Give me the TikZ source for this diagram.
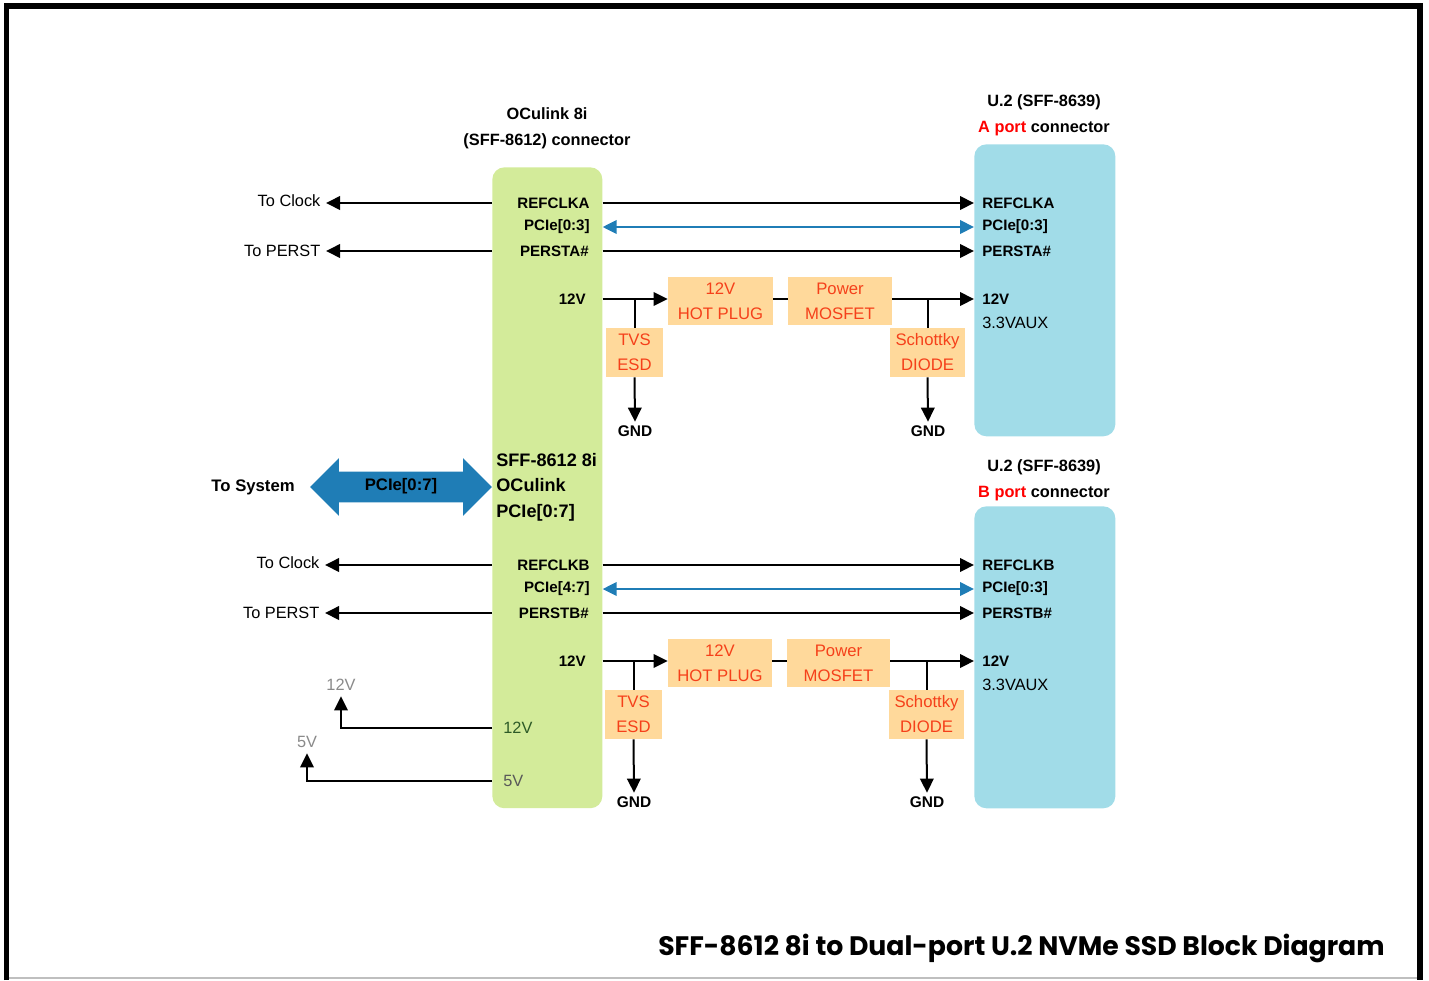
\documentclass[tikz,border=0pt]{standalone}
\usepackage{fontspec}
\setmainfont{Liberation Sans}
\newfontfamily\titlefont{Poppins}
\usetikzlibrary{arrows.meta}
\usetikzlibrary{positioning}
\usetikzlibrary{shapes.arrows}
\definecolor{ocugreen}{HTML}{D3EB9A}
\definecolor{utwoblue}{HTML}{A1DCE8}
\definecolor{partfill}{HTML}{FFD99B}
\definecolor{parttext}{HTML}{F5401A}
\definecolor{laneblue}{HTML}{1F7DB6}
\definecolor{railgrey}{HTML}{8A8A8A}
\definecolor{railgreen}{HTML}{2D5A27}
\newcommand{\fsz}[2][1.2]{\fontsize{#2}{#1\dimexpr#2\relax}\selectfont}

\begin{document}
\begin{tikzpicture}[x=0.02cm, y=-0.02cm,
    sig/.style={font=\bfseries\fsz{8.6pt}, inner sep=0pt},
    plain/.style={font=\fsz{9.3pt}, inner sep=0pt},
    head/.style={font={\bfseries\fsz[1.58]{9.3pt}}, inner sep=0pt, align=center},
    part/.style={fill=partfill, text=parttext, font={\fsz[1.5]{9.5pt}}, align=center, inner sep=0pt},
    gnd/.style={font=\bfseries\fsz{8.8pt}, inner sep=2pt},
    wire/.style={line width=0.04cm, -{Triangle[length=0.28cm,width=0.27cm]}},
    link/.style={line width=0.04cm},
    lane/.style={line width=0.04cm, laneblue, {Triangle[length=0.28cm,width=0.27cm]}-{Triangle[length=0.28cm,width=0.27cm]}}]

  \useasboundingbox (0,0) rectangle (1429,980);
  \draw[line width=0.11cm] (6.5,980) -- (6.5,6) -- (1420,6) -- (1420,980);
  \draw[black!25, line width=0.04cm] (9,978) -- (1417,978);

  \node[fill=ocugreen, rounded corners=0.24cm, inner sep=0pt, minimum width=2.2cm, minimum height=12.82cm, anchor=north west] (ocu) at (492,167) {};
  \node[fill=utwoblue, rounded corners=0.24cm, inner sep=0pt, minimum width=2.82cm, minimum height=5.84cm, anchor=north west] (ua) at (974,144) {};
  \node[fill=utwoblue, rounded corners=0.24cm, inner sep=0pt, minimum width=2.82cm, minimum height=6.04cm, anchor=north west] (ub) at (974,506) {};

  \node[head] (ocuhead) at (547,128) {OCulink 8i\\(SFF-8612) connector};
  \node[head] (uahead) at (1044,115) {U.2 (SFF-8639)\\{\color{red}A port} connector};
  \node[head] (ubhead) at (1044,480) {U.2 (SFF-8639)\\{\color{red}B port} connector};

  \node[sig, anchor=east] (refa) at (590,203) {REFCLKA};
  \node[sig, anchor=east] (pcia) at (590,227) {PCIe[0:3]};
  \node[sig, anchor=east] (persta) at (589,251) {PERSTA\#};
  \node[sig, anchor=east] (pwa) at (586,299) {12V};
  \node[sig, anchor=west] (urefa) at (982,203) {REFCLKA};
  \node[sig, anchor=west] (upcia) at (982,227) {PCIe[0:3]};
  \node[sig, anchor=west] (upersta) at (982,251) {PERSTA\#};
  \node[sig, anchor=west] (upwa) at (982,299) {12V};
  \node[plain, anchor=west] (auxa) at (982,323) {3.3VAUX};

  \node[plain, anchor=east, inner xsep=3pt] (clka) at (326,201) {To Clock};
  \node[plain, anchor=east, inner xsep=3pt] (rsta) at (326,251) {To PERST};

  \draw[wire] (ocu.west |- refa) -- (clka.east |- refa);
  \draw[wire] (ocu.west |- persta) -- (rsta.east |- persta);
  \draw[wire] (ocu.east |- refa) -- (ua.west |- urefa);
  \draw[lane] (ocu.east |- pcia) -- (ua.west |- upcia);
  \draw[wire] (ocu.east |- persta) -- (ua.west |- upersta);

  \node[part, minimum width=2.1cm, minimum height=0.96cm] (hpa) at (720.5,301) {12V\\HOT PLUG};
  \node[part, minimum width=2.08cm, minimum height=0.96cm] (mfa) at (840,301) {Power\\MOSFET};
  \node[part, minimum width=1.14cm, minimum height=0.98cm] (tvsa) at (634.5,352.5) {TVS\\ESD};
  \node[part, minimum width=1.5cm, minimum height=0.98cm] (dioa) at (927.5,352.5) {Schottky\\DIODE};
  \node[gnd] (gnda1) at (635,431) {GND};
  \node[gnd] (gnda2) at (928,431) {GND};

  \draw[wire] (ocu.east |- pwa) -- (hpa.west |- pwa);
  \draw[link] (hpa.east |- pwa) -- (mfa.west |- pwa);
  \draw[wire] (mfa.east |- pwa) -- (ua.west |- upwa);
  \draw[link] (tvsa.north |- pwa) -- (tvsa.north);
  \draw[wire] (tvsa.south) -- (gnda1.north);
  \draw[link] (dioa.north |- pwa) -- (dioa.north);
  \draw[wire] (dioa.south) -- (gnda2.north);

  \node[double arrow, fill=laneblue, font=\bfseries\fsz{9.5pt}, text height=0.2cm, text depth=0.06cm, inner ysep=0.17cm, inner xsep=0pt, double arrow head extend=0.27cm, minimum height=3.64cm] (sys) at (401,487) {PCIe[0:7]};
  \node[font=\bfseries\fsz{9.5pt}, inner sep=0pt, anchor=east] (tosys) at (295,487) {To System};
  \node[font={\bfseries\fsz[1.4]{10.3pt}}, inner sep=0pt, align=left, anchor=west] (ocumid) at (496,487) {SFF-8612 8i\\OCulink\\PCIe[0:7]};

  \node[sig, anchor=east] (refb) at (590,565) {REFCLKB};
  \node[sig, anchor=east] (pcib) at (590,589) {PCIe[4:7]};
  \node[sig, anchor=east] (perstb) at (589,613) {PERSTB\#};
  \node[sig, anchor=east] (pwb) at (586,661) {12V};
  \node[sig, anchor=west] (urefb) at (982,565) {REFCLKB};
  \node[sig, anchor=west] (upcib) at (982,589) {PCIe[0:3]};
  \node[sig, anchor=west] (uperstb) at (982,613) {PERSTB\#};
  \node[sig, anchor=west] (upwb) at (982,661) {12V};
  \node[plain, anchor=west] (auxb) at (982,685) {3.3VAUX};

  \node[plain, anchor=east, inner xsep=3pt] (clkb) at (325,563) {To Clock};
  \node[plain, anchor=east, inner xsep=3pt] (rstb) at (325,613) {To PERST};

  \draw[wire] (ocu.west |- refb) -- (clkb.east |- refb);
  \draw[wire] (ocu.west |- perstb) -- (rstb.east |- perstb);
  \draw[wire] (ocu.east |- refb) -- (ub.west |- urefb);
  \draw[lane] (ocu.east |- pcib) -- (ub.west |- upcib);
  \draw[wire] (ocu.east |- perstb) -- (ub.west |- uperstb);

  \node[part, minimum width=2.08cm, minimum height=0.96cm] (hpb) at (720,663) {12V\\HOT PLUG};
  \node[part, minimum width=2.06cm, minimum height=0.96cm] (mfb) at (838.5,663) {Power\\MOSFET};
  \node[part, minimum width=1.14cm, minimum height=0.98cm] (tvsb) at (633.5,714.5) {TVS\\ESD};
  \node[part, minimum width=1.5cm, minimum height=0.98cm] (diob) at (926.5,714.5) {Schottky\\DIODE};
  \node[gnd] (gndb1) at (634,802) {GND};
  \node[gnd] (gndb2) at (927,802) {GND};

  \draw[wire] (ocu.east |- pwb) -- (hpb.west |- pwb);
  \draw[link] (hpb.east |- pwb) -- (mfb.west |- pwb);
  \draw[wire] (mfb.east |- pwb) -- (ub.west |- upwb);
  \draw[link] (tvsb.north |- pwb) -- (tvsb.north);
  \draw[wire] (tvsb.south) -- (gndb1.north);
  \draw[link] (diob.north |- pwb) -- (diob.north);
  \draw[wire] (diob.south) -- (gndb2.north);

  \node[plain, text=railgreen, anchor=west] (rail12) at (503,728) {12V};
  \node[plain, text=black!65, anchor=west] (rail5) at (503,781) {5V};
  \node[plain, text=railgrey, inner sep=3pt] (out12) at (341,685) {12V};
  \node[plain, text=railgrey, inner sep=3pt] (out5) at (307,742) {5V};
  \draw[wire] (ocu.west |- rail12) -| (out12.south);
  \draw[wire] (ocu.west |- rail5) -| (out5.south);

  \node[font=\titlefont\bfseries\fsz{15.2pt}, inner sep=0pt, anchor=east] (title) at (1385,948) {SFF-8612 8i to Dual-port U.2 NVMe SSD Block Diagram};
\end{tikzpicture}
\end{document}
